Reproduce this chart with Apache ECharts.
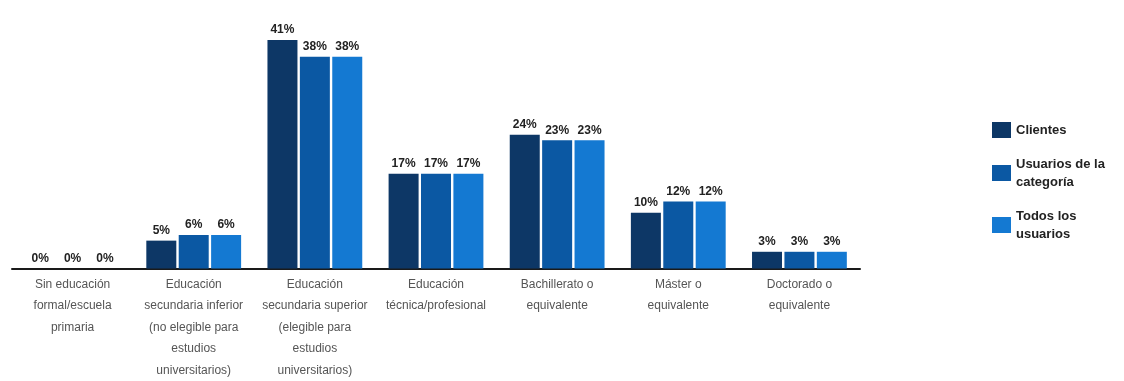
<!DOCTYPE html>
<html>
<head>
<meta charset="utf-8">
<script src="https://cdn.jsdelivr.net/npm/echarts@6/dist/echarts.min.js"></script>
<style>
  html, body { margin: 0; padding: 0; background: #fff; }
  #chart { width: 1124px; height: 381px; }
</style>
</head>
<body>
<div id="chart"></div>
<script>
// Nivel educativo: porcentaje por grupo
const categories = [
  'Sin educación\nformal/escuela\nprimaria',
  'Educación\nsecundaria inferior\n(no elegible para\nestudios\nuniversitarios)',
  'Educación\nsecundaria superior\n(elegible para\nestudios\nuniversitarios)',
  'Educación\ntécnica/profesional',
  'Bachillerato o\nequivalente',
  'Máster o\nequivalente',
  'Doctorado o\nequivalente'
];
const seriesNames = ['Clientes', 'Usuarios de la\ncategoría', 'Todos los\nusuarios'];
const clientes = [0, 5, 41, 17, 24, 10, 3];
const usuariosCategoria = [0, 6, 38, 17, 23, 12, 3];
const todosUsuarios = [0, 6, 38, 17, 23, 12, 3];
const colors = ['#0d3766', '#0b58a3', '#1479d2'];

const chart = echarts.init(document.getElementById('chart'));
const font = 'Liberation Sans, Arial, sans-serif';

function barSeries(name, data, color) {
  return {
    name: name,
    type: 'bar',
    data: data,
    barWidth: 30,
    barGap: '8%',
    itemStyle: { color: color },
    label: {
      show: true,
      position: 'top',
      distance: 4,
      formatter: '{c}%',
      color: '#222',
      fontFamily: font,
      fontSize: 12,
      fontWeight: 'bold'
    }
  };
}

chart.setOption({
  animation: false,
  textStyle: { fontFamily: font },
  grid: { left: 12, right: 264, top: 40, bottom: 111 },
  legend: {
    orient: 'vertical',
    left: 987,
    top: 116,
    itemWidth: 19,
    itemHeight: 16,
    itemGap: 16,
    icon: 'rect',
    textStyle: {
      color: '#222',
      fontFamily: font,
      fontSize: 13,
      fontWeight: 'bold',
      lineHeight: 18
    },
    data: seriesNames
  },
  xAxis: {
    type: 'category',
    data: categories,
    axisLine: { lineStyle: { color: '#1a1a1a', width: 2 } },
    axisTick: { show: false },
    axisLabel: {
      interval: 0,
      color: '#555',
      fontFamily: font,
      fontSize: 12,
      lineHeight: 21.5,
      margin: 5
    }
  },
  yAxis: {
    type: 'value',
    min: 0,
    max: 41,
    show: false,
    splitLine: { show: false }
  },
  series: [
    barSeries(seriesNames[0], clientes, colors[0]),
    barSeries(seriesNames[1], usuariosCategoria, colors[1]),
    barSeries(seriesNames[2], todosUsuarios, colors[2])
  ]
});
</script>
</body>
</html>
